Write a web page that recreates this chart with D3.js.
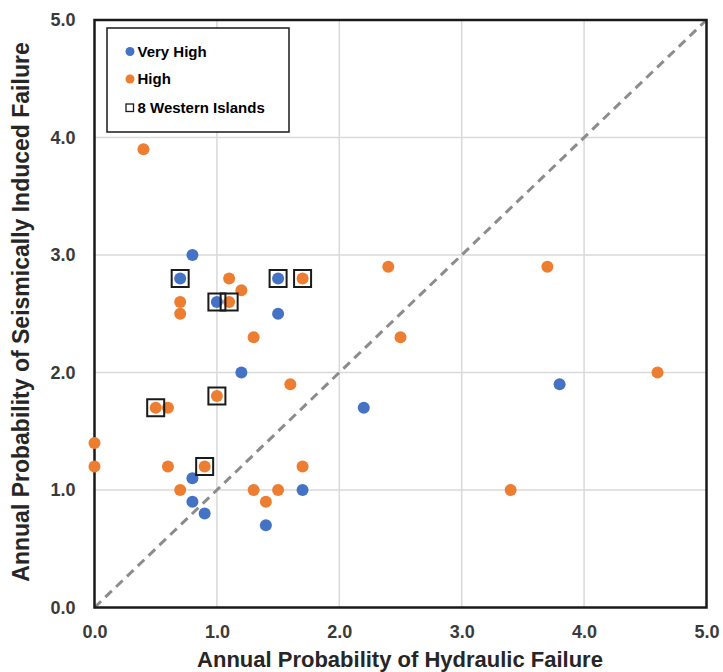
<!DOCTYPE html>
<html>
<head>
  <script src="https://d3js.org/d3.v7.min.js"></script>
  <style>
    body { margin: 0; background: #fff; }
    * { font-family: "Liberation Sans", Arial, sans-serif; }
    .tick text { font-size: 18px; font-weight: bold; fill: #3a3a3a; }
    .title { font-size: 22px; font-weight: bold; fill: #262626; }
    .ytitle { font-size: 23px; }
    .legend text { font-size: 15px; font-weight: bold; fill: #000; }
  </style>
</head>
<body>
<script>
// Very High points: [hydraulic, seismic]
const veryHighX = [0.8, 0.7, 1.0, 1.5, 1.5, 1.2, 2.2, 3.8, 0.8, 0.8, 0.9, 1.4, 1.7];
const veryHighY = [3.0, 2.8, 2.6, 2.8, 2.5, 2.0, 1.7, 1.9, 1.1, 0.9, 0.8, 0.7, 1.0];

// High points
const highX = [0.4, 0.7, 0.7, 1.1, 1.2, 1.1, 1.3, 1.7, 1.6, 2.4, 2.5, 3.7, 4.6, 3.4,
               0.5, 0.6, 1.0, 0.0, 0.0, 0.6, 0.9, 0.7, 1.3, 1.4, 1.5, 1.7];
const highY = [3.9, 2.6, 2.5, 2.8, 2.7, 2.6, 2.3, 2.8, 1.9, 2.9, 2.3, 2.9, 2.0, 1.0,
               1.7, 1.7, 1.8, 1.4, 1.2, 1.2, 1.2, 1.0, 1.0, 0.9, 1.0, 1.2];

// 8 Western Islands (boxed points)
const islandX = [0.7, 1.0, 1.1, 1.5, 1.7, 0.5, 1.0, 0.9];
const islandY = [2.8, 2.6, 2.6, 2.8, 2.8, 1.7, 1.8, 1.2];

const ticks = [0, 1, 2, 3, 4, 5];
const legendLabels = ["Very High", "High", "8 Western Islands"];
const colors = { veryHigh: "#4472C4", high: "#ED7D31" };

const W = 723, H = 672;
const plotL = 94.5, plotR = 706.5, plotT = 20, plotB = 607.5;

const svg = d3.select("body").append("svg")
  .attr("width", W).attr("height", H);

const x = d3.scaleLinear().domain([0, 5]).range([plotL, plotR]);
const y = d3.scaleLinear().domain([0, 5]).range([plotB, plotT]);

// gridlines
svg.append("g").selectAll("line").data(ticks.slice(1, -1)).join("line")
  .attr("x1", d => x(d)).attr("x2", d => x(d))
  .attr("y1", plotT).attr("y2", plotB)
  .attr("stroke", "#d9d9d9").attr("stroke-width", 1.5);
svg.append("g").selectAll("line").data(ticks.slice(1, -1)).join("line")
  .attr("y1", d => y(d)).attr("y2", d => y(d))
  .attr("x1", plotL).attr("x2", plotR)
  .attr("stroke", "#d9d9d9").attr("stroke-width", 1.5);

// diagonal 1:1 line
svg.append("line")
  .attr("x1", x(0)).attr("y1", y(0))
  .attr("x2", x(5)).attr("y2", y(5))
  .attr("stroke", "#8c8c8c").attr("stroke-width", 3)
  .attr("stroke-dasharray", "9,6");

// axes
const xAxis = svg.append("g")
  .attr("transform", "translate(0," + plotB + ")")
  .call(d3.axisBottom(x).tickValues(ticks).tickFormat(d3.format(".1f")).tickSize(0).tickPadding(18));
const yAxis = svg.append("g")
  .attr("transform", "translate(" + plotL + ",0)")
  .call(d3.axisLeft(y).tickValues(ticks).tickFormat(d3.format(".1f")).tickSize(0).tickPadding(19));
xAxis.select(".domain").remove();
yAxis.select(".domain").remove();
xAxis.attr("font-family", null).attr("font-size", null);
yAxis.attr("font-family", null).attr("font-size", null);

// plot border
svg.append("rect")
  .attr("x", plotL).attr("y", plotT)
  .attr("width", plotR - plotL).attr("height", plotB - plotT)
  .attr("fill", "none").attr("stroke", "#1a1a1a").attr("stroke-width", 2.5);

// points
svg.append("g").selectAll("circle").data(d3.range(highX.length)).join("circle")
  .attr("cx", i => x(highX[i])).attr("cy", i => y(highY[i]))
  .attr("r", 6).attr("fill", colors.high);
svg.append("g").selectAll("circle").data(d3.range(veryHighX.length)).join("circle")
  .attr("cx", i => x(veryHighX[i])).attr("cy", i => y(veryHighY[i]))
  .attr("r", 6).attr("fill", colors.veryHigh);

// island boxes
const bs = 17;
svg.append("g").selectAll("rect").data(d3.range(islandX.length)).join("rect")
  .attr("x", i => x(islandX[i]) - bs / 2).attr("y", i => y(islandY[i]) - bs / 2)
  .attr("width", bs).attr("height", bs)
  .attr("fill", "none").attr("stroke", "#1a1a1a").attr("stroke-width", 2);

// legend
const lg = svg.append("g").attr("class", "legend");
lg.append("rect")
  .attr("x", 107).attr("y", 28).attr("width", 182).attr("height", 104)
  .attr("fill", "#fff").attr("stroke", "#1a1a1a").attr("stroke-width", 1.5);
const ly = [51.5, 79, 107.5];
lg.append("circle").attr("cx", 130).attr("cy", ly[0]).attr("r", 4.5).attr("fill", colors.veryHigh);
lg.append("circle").attr("cx", 130).attr("cy", ly[1]).attr("r", 4.5).attr("fill", colors.high);
lg.append("rect").attr("x", 126).attr("y", ly[2] - 3.5).attr("width", 7.5).attr("height", 7.5)
  .attr("fill", "none").attr("stroke", "#1a1a1a").attr("stroke-width", 1.3);
lg.selectAll("text").data(legendLabels).join("text")
  .attr("x", 137.5).attr("y", (d, i) => ly[i] + 5.3)
  .text(d => d);

// axis titles
svg.append("text").attr("class", "title")
  .attr("x", 400).attr("y", 667).attr("text-anchor", "middle")
  .text("Annual Probability of Hydraulic Failure");
svg.append("text").attr("class", "title ytitle")
  .attr("transform", "translate(29,312) rotate(-90)")
  .attr("text-anchor", "middle")
  .text("Annual Probability of Seismically Induced Failure");
</script>
</body>
</html>
